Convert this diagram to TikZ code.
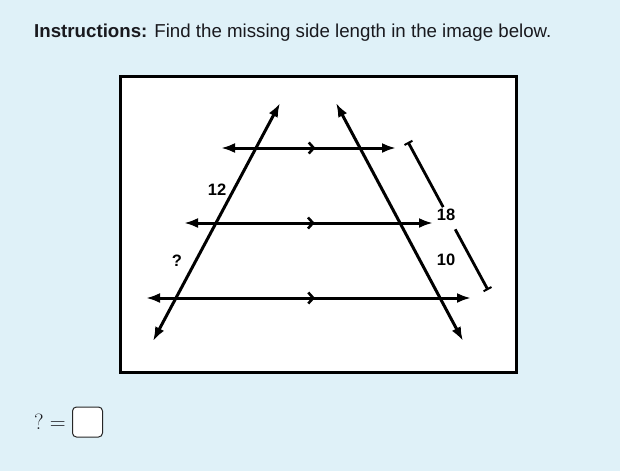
\documentclass[tikz,border=0pt]{standalone}
\usepackage{fontspec}
\setmainfont{Liberation Sans}
\usetikzlibrary{arrows.meta,decorations.markings,calc}
\definecolor{bgblue}{RGB}{223,241,248}
\definecolor{txt}{RGB}{25,25,30}
\newfontfamily\lmserif{Latin Modern Roman}
\tikzset{
  geo/.style={line width=3pt,{Latex[length=14pt,width=10pt]}-{Latex[length=14pt,width=10pt]}},
  par/.style={geo,postaction={decorate},decoration={markings,mark=at position #1 with {\arrow{Straight Barb[length=5pt,width=11pt,line width=2.6pt]}}}},
  lab/.style={font=\bfseries\fontsize{16.5}{16.5}\selectfont,inner sep=1pt},
  dim/.style={line width=2.8pt},
}
\begin{document}
\begin{tikzpicture}[x=1pt,y=-1pt]
\fill[bgblue] (0,0) rectangle (620,471);
\useasboundingbox (0,0) rectangle (620,471);
\node[anchor=base west,text=txt,inner sep=0pt,font=\fontsize{18.7}{20}\selectfont] (title) at (34,37) {\textbf{Instructions:} Find the missing side length in the image below.};
\node[draw=black,fill=white,line width=2.8pt,minimum width=396pt,minimum height=296pt,anchor=north west,inner sep=0pt] (frame) at (119,75) {};
% slanted lines
\coordinate (LT) at (280,103);
\coordinate (LB) at (153,341);
\coordinate (RT) at (336,103);
\coordinate (RB) at (463,341);
\draw[geo] (LB) -- (LT);
\draw[geo] (RT) -- (RB);
% parallel lines
\coordinate (T1) at (221,148); \coordinate (T2) at (396,148);
\coordinate (M1) at (184,223); \coordinate (M2) at (433,223);
\coordinate (B1) at (146,298); \coordinate (B2) at (471,298);
\draw[par=0.54] (T1) -- (T2);
\draw[par=0.525] (M1) -- (M2);
\draw[par=0.52] (B1) -- (B2);
% dimension
\coordinate (DA) at (408,142);
\coordinate (DB) at (488,290);
\draw[dim,{Bar[width=9pt,line width=2pt]}-] (DA) -- ($(DA)!0.44!(DB)$) coordinate (DA2);
\draw[dim,-{Bar[width=9pt,line width=2pt]}] ($(DA)!0.59!(DB)$) coordinate (DB2) -- (DB);
\node[lab] (n18) at (446,215) {18};
\node[lab] (n10) at (446,260) {10};
\node[lab] (n12) at (217,190) {12};
\node[lab] (nq) at (177,261) {?};
% answer
\node[anchor=base west,inner sep=0pt,font=\lmserif\fontsize{22}{22}\selectfont,text=txt] (eq) at (34,429) {?\;=};
\node[draw=black!85,fill=white,rounded corners=4pt,line width=1pt,minimum width=30pt,minimum height=30pt,anchor=west,inner sep=0pt] (ans) at (72,422) {};
\end{tikzpicture}
\end{document}
